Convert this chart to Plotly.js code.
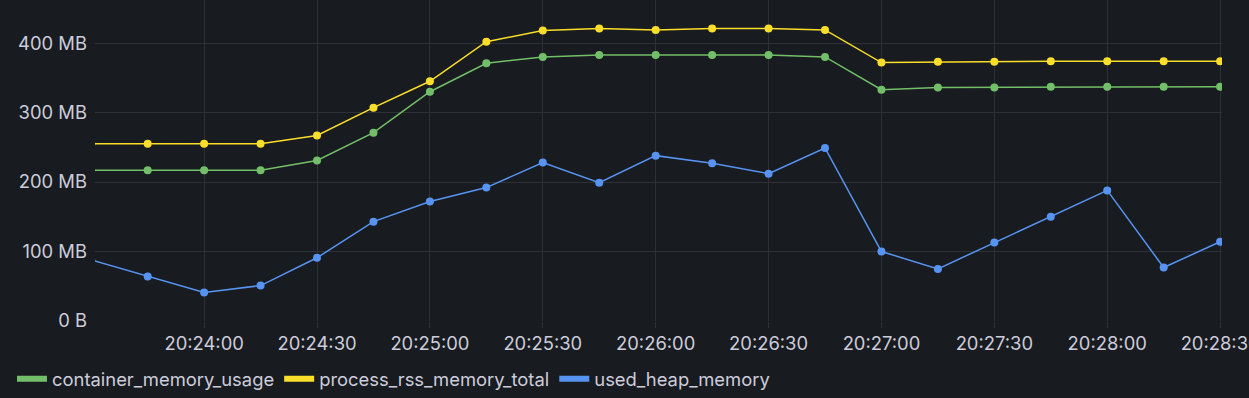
<!DOCTYPE html>
<html>
<head>
<meta charset="utf-8">
<script src="https://cdn.plot.ly/plotly-3.0.1.min.js"></script>
<style>
html,body{margin:0;padding:0;background:#181b1f;}
#chart{width:1249px;height:398px;}
</style>
</head>
<body>
<div id="chart"></div>
<script>
// Timestamps every 15 s
const times = [
  "2024-01-01 20:23:30","2024-01-01 20:23:45","2024-01-01 20:24:00","2024-01-01 20:24:15",
  "2024-01-01 20:24:30","2024-01-01 20:24:45","2024-01-01 20:25:00","2024-01-01 20:25:15",
  "2024-01-01 20:25:30","2024-01-01 20:25:45","2024-01-01 20:26:00","2024-01-01 20:26:15",
  "2024-01-01 20:26:30","2024-01-01 20:26:45","2024-01-01 20:27:00","2024-01-01 20:27:15",
  "2024-01-01 20:27:30","2024-01-01 20:27:45","2024-01-01 20:28:00","2024-01-01 20:28:15",
  "2024-01-01 20:28:30"
];
// Values in MB
const containerMemoryUsage = [217,217,217,217,231,271,330,371,380,383,383,383,383,380,333,336,336,337,337,337,337];
const processRssMemoryTotal = [255,255,255,255,267,307,345,402,418,421,419,421,421,419,372,373,373,374,374,374,374];
const usedHeapMemory = [88,64,41,51,91,143,172,192,228,199,238,227,212,249,100,75,113,150,188,77,114];

const seriesNames = ["container_memory_usage","process_rss_memory_total","used_heap_memory"];
const seriesColors = ["#73bf69","#fade2a","#5794f2"];
const seriesValues = [containerMemoryUsage, processRssMemoryTotal, usedHeapMemory];

const yTickVals = [0,100,200,300,400];
const yTickText = ["0 B","100 MB","200 MB","300 MB","400 MB"];

const traces = seriesValues.map((vals,i)=>({
  x: times, y: vals, name: seriesNames[i], type:'scatter', mode:'lines+markers',
  line:{color:seriesColors[i], width:1.5},
  marker:{color:seriesColors[i], size:8},
  showlegend:false, hoverinfo:'x+y+name'
}));
// legend-only entries
seriesNames.forEach((n,i)=>{
  traces.push({x:[null], y:[null], name:n, type:'scatter', mode:'lines',
    line:{color:seriesColors[i], width:6}, showlegend:true});
});

const grid = '#2e3035';
const layout = {
  width:1249, height:398,
  paper_bgcolor:'#181b1f', plot_bgcolor:'#181b1f',
  margin:{l:95, r:27, t:0, b:77},
  font:{family:'Inter, "Noto Sans", sans-serif', size:18.4, color:'#ccccdc'},
  xaxis:{
    type:'date',
    range:["2024-01-01 20:23:31","2024-01-01 20:28:30.5"],
    dtick:30000, tick0:"2024-01-01 20:24:00", tickformat:'%H:%M:%S',
    showgrid:true, gridcolor:grid, gridwidth:1,
    ticks:'outside', ticklen:6, tickcolor:grid,
    ticklabeloverflow:'allow',
    zeroline:false, showline:false, fixedrange:true
  },
  yaxis:{
    range:[0,462], tickvals:yTickVals, ticktext:yTickText,
    showgrid:true, gridcolor:grid, gridwidth:1,
    zeroline:false, showline:false, ticklabelstandoff:7, fixedrange:true
  },
  showlegend:true,
  legend:{orientation:'h', xref:'container', yref:'container', x:0.0096, y:0.048, xanchor:'left', yanchor:'middle',
    font:{size:18.4, color:'#ccccdc'}, itemwidth:30, bgcolor:'rgba(0,0,0,0)', traceorder:'normal'}
};
Plotly.newPlot('chart', traces, layout, {displayModeBar:false, staticPlot:true});
</script>
</body>
</html>
